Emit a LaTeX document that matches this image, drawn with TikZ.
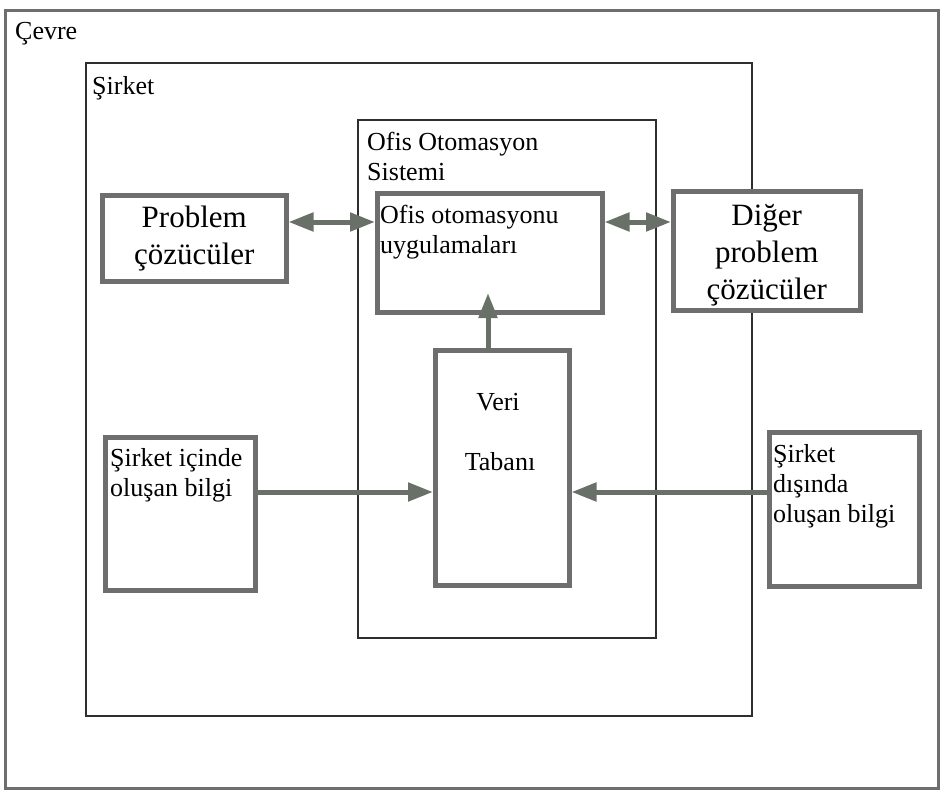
\documentclass[tikz,border=0pt]{standalone}
\usepackage{fontspec}
\setmainfont{Liberation Serif}
\usetikzlibrary{arrows.meta,calc}
\definecolor{boxgray}{HTML}{6E6E6E}
\definecolor{arrgray}{HTML}{687068}
\definecolor{linedark}{HTML}{2E2E2E}
\tikzset{
  outerbox/.style={draw=boxgray,line width=3pt},
  thinbox/.style={draw=linedark,line width=1.8pt},
  thickbox/.style={draw=boxgray,fill=white,line width=4.5pt},
  smalltxt/.style={font=\fontsize{26}{30}\selectfont,inner sep=0pt,anchor=base west,align=left},
  bigtxt/.style={font=\fontsize{31}{37}\selectfont,inner sep=0pt,align=center},
  conn/.style={draw=arrgray,line width=5pt,-{Triangle[length=25pt,width=18pt]}},
  dconn/.style={draw=arrgray,line width=5pt,{Triangle[length=25pt,width=18pt]}-{Triangle[length=25pt,width=18pt]}}
}
\begin{document}
\begin{tikzpicture}[x=1pt,y=-1pt]
\useasboundingbox (0,0) rectangle (942,798);
% containers
\draw[outerbox] (5,10) rectangle (938,788);
\draw[thinbox] (86,63) rectangle (752,716);
\draw[thinbox] (358,120) rectangle (656,638);
\node[smalltxt] (tcevre) at (15,39) {Çevre};
\node[smalltxt] (tsirket) at (92,94) {Şirket};
\node[smalltxt] (toss) at (367,180) {Ofis Otomasyon\\Sistemi};
% boxes
\node[thickbox,minimum width=184pt,minimum height=86pt,anchor=north west] (pc) at (100,193) {};
\node[bigtxt] (tpc) at (pc.center) {Problem\\çözücüler};
\node[thickbox,minimum width=225pt,minimum height=119pt,anchor=north west] (ofis) at (375,191) {};
\node[smalltxt] (tofis) at (380,253) {Ofis otomasyonu\\uygulamaları};
\node[thickbox,minimum width=187pt,minimum height=119pt,anchor=north west] (dpc) at (671,189) {};
\node[bigtxt] (tdpc) at ($(dpc.center)+(0,4)$) {Diğer\\problem\\çözücüler};
\node[thickbox,minimum width=134pt,minimum height=235pt,anchor=north west] (vt) at (433,348) {};
\node[font=\fontsize{26}{30}\selectfont,inner sep=0pt,anchor=base] (tveri) at (498,410) {Veri};
\node[font=\fontsize{26}{30}\selectfont,inner sep=0pt,anchor=base] (ttaban) at (500,470) {Tabanı};
\node[thickbox,minimum width=150pt,minimum height=153pt,anchor=north west] (ic) at (103,435) {};
\node[smalltxt] (tic) at (110,496) {Şirket içinde\\oluşan bilgi};
\node[thickbox,minimum width=150pt,minimum height=154pt,anchor=north west] (dis) at (767,430) {};
\node[smalltxt] (tdis) at (773,522) {Şirket\\dışında\\oluşan bilgi};
% connectors
\coordinate (lvA) at (0,222);
\coordinate (lvB) at (0,492);
\coordinate (tipV) at (488,293);
\draw[dconn] (pc.east |- lvA) -- (ofis.west |- lvA);
\draw[dconn] (ofis.east |- lvA) -- (dpc.west |- lvA);
\draw[conn] (tipV |- vt.north) -- (tipV);
\draw[conn] (ic.east |- lvB) -- (vt.west |- lvB);
\draw[conn] (dis.west |- lvB) -- (vt.east |- lvB);
\end{tikzpicture}
\end{document}
